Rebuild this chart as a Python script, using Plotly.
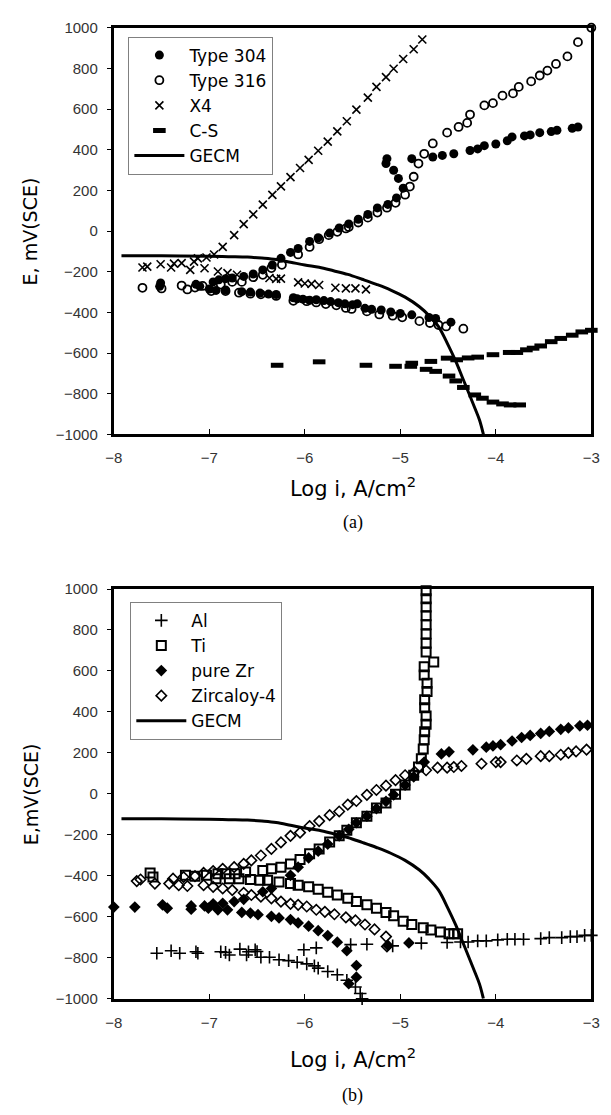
import plotly.graph_objects as go

# ---------------- Panel (a) data ----------------
t304_x = [-7.51, -7.52, -7.14, -7.10, -6.96, -6.90, -6.83, -6.76, -6.64, -6.54, -6.44, -6.34, -6.25, -6.15,
          -6.07, -5.95, -5.86, -5.74, -5.64, -5.54, -5.44, -5.34, -5.24, -5.13, -5.04, -4.97, -5.02, -5.07,
          -5.15, -5.14, -4.88, -4.66, -4.56, -4.44, -4.27, -4.19, -4.12, -4.00, -3.88, -3.83, -3.70, -3.64,
          -3.54, -3.42, -3.36, -3.20, -3.14,
          -7.00, -6.93, -6.83, -6.66, -6.57, -6.47, -6.38, -6.30, -6.12, -6.08, -6.02, -5.95, -5.88, -5.80,
          -5.73, -5.65, -5.58, -5.50, -5.45, -5.37, -5.30, -5.20, -5.10, -5.00, -4.88, -4.70, -4.63, -4.47]
t304_y = [-255, -272, -262, -272, -250, -240, -234, -231, -223, -211, -191, -167, -134, -105,
          -86, -51, -33, -10, 15, 35, 58, 82, 114, 131, 163, 211, 259, 299,
          332, 356, 356, 364, 372, 380, 396, 404, 420, 428, 444, 463, 468, 473,
          484, 489, 496, 505, 512,
          -285, -292, -290, -298, -300, -305, -310, -312, -328, -333, -335, -340, -338, -342,
          -347, -352, -358, -362, -358, -380, -385, -388, -398, -405, -412, -425, -430, -448]

t316_x = [-7.70, -7.50, -7.29, -7.23, -7.15, -7.07, -6.98, -6.83, -6.69, -6.57, -6.46, -6.30, -6.12, -5.98,
          -5.88, -5.78, -5.67, -5.57, -5.51, -5.35, -5.22, -5.08, -4.98, -4.80, -4.69, -4.60, -4.52, -4.34,
          -6.88, -6.76, -6.66, -6.54, -6.44, -6.35, -6.24, -6.07, -5.95, -5.85, -5.75, -5.66, -5.57, -5.54,
          -5.44, -5.34, -5.24, -5.14, -5.05, -4.95, -4.90, -4.86, -4.81, -4.75, -4.66, -4.51, -4.39, -4.30,
          -4.27, -4.12, -4.03, -3.93, -3.82, -3.76, -3.63, -3.54, -3.46, -3.37, -3.25, -3.14, -3.00]
t316_y = [-279, -282, -268, -287, -278, -270, -295, -295, -303, -308, -311, -319, -343, -345,
          -351, -359, -365, -378, -383, -395, -410, -416, -424, -443, -452, -462, -469, -480,
          -263, -250, -250, -227, -215, -182, -166, -115, -78, -40, -20, -4, 13, 20,
          42, 66, 91, 115, 139, 179, 219, 267, 332, 380, 431, 484, 512, 532,
          573, 618, 629, 666, 677, 709, 736, 765, 789, 822, 859, 929, 1000]

x4_x = [-7.70, -7.65, -7.51, -7.40, -7.37, -7.29, -7.20, -7.16, -7.12, -7.05, -7.03, -6.95, -6.86, -6.74,
        -6.64, -6.54, -6.44, -6.34, -6.25, -6.15, -6.05, -5.96, -5.86, -5.76, -5.66, -5.56, -5.46, -5.34,
        -5.25, -5.15, -5.07, -4.97, -4.86, -4.77,
        -6.91, -6.81, -6.71, -6.37, -6.30, -6.25, -6.07, -6.00, -5.93, -5.85, -5.68, -5.57, -5.47, -5.36]
x4_y = [-179, -175, -163, -179, -160, -158, -191, -150, -134, -183, -130, -115, -78, -20,
        34, 82, 130, 178, 220, 265, 310, 350, 395, 440, 490, 540, 597, 656,
        709, 757, 798, 846, 894, 942,
        -199, -207, -215, -231, -235, -234, -252, -258, -260, -265, -279, -282, -282, -287]

cs_x = [-6.29, -5.85, -5.36, -5.05, -4.89, -4.88, -4.68, -4.73, -4.63, -4.51, -4.49, -4.41, -4.42, -4.29,
        -4.19, -4.34, -4.22, -4.03, -4.14, -4.03, -3.93, -3.85, -3.75, -3.86, -3.78, -3.68, -3.61, -3.53,
        -3.42, -3.32, -3.20, -3.10, -3.00]
cs_y = [-660, -643, -660, -665, -665, -650, -641, -680, -690, -625, -713, -633, -737, -624,
        -620, -769, -806, -608, -822, -841, -850, -855, -855, -597, -597, -584, -576, -565,
        -544, -528, -512, -496, -488]

# ---------------- GECM (both panels) ----------------
gecm_x = [-7.92, -7.50, -7.00, -6.80, -6.60, -6.45, -6.30, -6.15, -6.00, -5.85, -5.70, -5.55, -5.40,
          -5.25, -5.10, -4.95, -4.80, -4.70, -4.60, -4.50, -4.42, -4.35, -4.28, -4.22, -4.17, -4.13]
gecm_y = [-122, -122, -124, -126, -128, -133, -140, -153, -167, -178, -195, -213, -237,
          -262, -290, -325, -372, -415, -470, -560, -640, -720, -800, -870, -930, -1000]

# ---------------- Panel (b) data ----------------
al_x = [-7.55, -7.40, -7.31, -7.14, -7.12, -6.88, -6.83, -6.79, -6.68, -6.61, -6.59, -6.52, -6.50, -6.46,
        -6.37, -6.27, -6.17, -6.08, -5.98, -5.90, -5.86, -5.76, -5.66, -5.56, -5.47, -5.42, -5.40,
        -6.01, -5.88, -5.52, -5.35, -5.08, -4.78, -4.51, -4.37, -4.29, -4.19, -4.10, -3.98, -3.88, -3.80,
        -3.71, -3.53, -3.44, -3.31, -3.22, -3.15, -3.07, -3.00]
al_y = [-778, -766, -778, -771, -778, -771, -774, -787, -758, -787, -771, -761, -770, -798,
        -798, -810, -814, -822, -830, -840, -851, -867, -883, -910, -943, -975, -1000,
        -761, -752, -736, -734, -742, -729, -726, -723, -723, -718, -718, -713, -710, -710,
        -710, -707, -702, -702, -697, -697, -691, -691]

ti_x = [-4.73, -4.73, -4.73, -4.73, -4.73, -4.73, -4.73, -4.73, -4.65, -4.75, -4.75, -4.72, -4.72, -4.745,
        -4.745, -4.73, -4.73, -4.745, -4.75, -4.76, -4.78, -4.81, -4.86, -4.95, -5.05, -5.15, -5.25, -5.35,
        -5.46, -5.56, -5.64, -5.74, -5.85, -5.95, -6.05, -6.15, -6.25, -6.35, -6.44, -6.62, -6.73, -6.83,
        -6.91, -7.03, -7.15, -7.25, -7.59, -7.62,
        -6.93, -6.79, -6.69, -6.57, -6.47, -6.39, -6.27, -6.15, -6.07, -5.96, -5.86, -5.76, -5.66, -5.55,
        -5.46, -5.35, -5.25, -5.15, -5.07, -4.97, -4.88, -4.76, -4.68, -4.58, -4.49, -4.44, -4.40]
ti_y = [992, 953, 912, 869, 825, 780, 735, 692, 644, 620, 580, 540, 500, 460,
        420, 380, 340, 303, 264, 219, 171, 131, 91, 43, -2, -45, -69, -109,
        -141, -178, -205, -235, -269, -293, -320, -342, -358, -366, -374, -381, -390, -390,
        -390, -398, -402, -398, -406, -386,
        -414, -414, -414, -418, -422, -422, -430, -438, -446, -454, -466, -480, -494, -510,
        -526, -542, -558, -579, -595, -622, -638, -654, -665, -675, -683, -683, -683]

zr_x = [-8.00, -7.78, -7.49, -7.44, -7.19, -7.19, -7.05, -7.01, -6.96, -6.91, -6.86, -6.81, -6.74, -6.64,
        -6.66, -6.57, -6.49, -6.44, -6.35, -6.35, -6.27, -6.15, -6.07, -6.15, -6.07, -5.96, -5.96, -5.86,
        -5.86, -5.76, -5.76, -5.66, -5.56, -5.46, -5.46, -5.54, -5.64, -5.54, -5.46, -5.35, -5.25, -5.15,
        -5.07, -4.95, -4.86, -4.75, -4.57, -4.49, -4.24, -4.10, -4.03, -3.95, -3.83, -3.73, -3.64, -3.53,
        -3.44, -3.32, -3.24, -3.12, -3.04, -5.13, -4.91]
zr_y = [-553, -553, -542, -558, -547, -563, -547, -558, -537, -566, -534, -566, -526, -515,
        -579, -582, -590, -478, -462, -598, -606, -398, -358, -614, -630, -313, -646, -280,
        -668, -245, -692, -724, -766, -838, -895, -927, -205, -173, -141, -109, -72, -37,
        -5, 43, 83, 155, 195, 205, 215, 228, 234, 240, 258, 275, 285, 295,
        305, 315, 322, 332, 335, -740, -728]

zy4_x = [-7.76, -7.72, -7.57, -7.42, -7.38, -7.32, -7.27, -7.23, -7.15, -7.06, -6.96, -6.86, -6.76, -6.64,
         -6.56, -6.46, -6.35, -6.25, -6.15, -6.07, -5.98, -5.88, -5.79, -5.69, -5.57, -5.47, -5.37, -5.27,
         -5.15, -5.14,
         -7.06, -6.96, -6.86, -6.74, -6.64, -6.56, -6.46, -6.35, -6.25, -6.15, -6.05, -5.95, -5.85, -5.74,
         -5.64, -5.55, -5.46, -5.35, -5.25, -5.15, -5.05, -4.95, -4.85, -4.73, -4.61, -4.51, -4.44, -4.36,
         -4.15, -4.00, -3.95, -3.78, -3.68, -3.53, -3.44, -3.32, -3.24, -3.16, -3.05]
zy4_y = [-426, -418, -438, -438, -414, -446, -406, -450, -402, -446, -454, -462, -470, -483,
         -494, -502, -510, -526, -537, -542, -550, -566, -576, -588, -603, -618, -638, -662,
         -697, -745,
         -386, -377, -366, -358, -342, -325, -301, -269, -237, -205, -189, -157, -133, -104,
         -86, -53, -35, -5, 19, 40, 67, 91, 107, 115, 128, 128, 131, 136,
         147, 155, 155, 163, 171, 184, 184, 191, 200, 207, 216]

x_ticks = [-8, -7, -6, -5, -4, -3]
y_ticks = [-1000, -800, -600, -400, -200, 0, 200, 400, 600, 800, 1000]

W, H = 611, 1115
XL, XR = 108, 600
A_TOP, A_BOT = 19, 432
B_TOP, B_BOT = 589, 1005

def py(p):
    return 1 - p / H

fig = go.Figure()

def mk(x, y, name, xa, ya, leg, **m):
    fig.add_trace(go.Scatter(x=x, y=y, mode="markers", name=name, xaxis=xa, yaxis=ya,
                             legend=leg, marker=m, cliponaxis=False))

mk(t304_x, t304_y, "Type 304", "x", "y", "legend", symbol="circle", size=9, color="black",
   line=dict(width=0))
mk(t316_x, t316_y, "Type 316", "x", "y", "legend", symbol="circle-open", size=8, color="black",
   line=dict(width=1.8, color="black"))
mk(x4_x, x4_y, "X4", "x", "y", "legend", symbol="x-thin", size=8, color="black",
   line=dict(width=1.6, color="black"))
mk(cs_x, cs_y, "C-S", "x", "y", "legend", symbol="line-ew", size=9, color="black",
   line=dict(width=5, color="black"))
fig.add_trace(go.Scatter(x=gecm_x, y=gecm_y, mode="lines", name="GECM", xaxis="x", yaxis="y",
                         legend="legend", line=dict(color="black", width=3, shape="spline")))

mk(al_x, al_y, "Al", "x2", "y2", "legend2", symbol="cross-thin", size=9, color="black",
   line=dict(width=1.6, color="black"))
mk(ti_x, ti_y, "Ti", "x2", "y2", "legend2", symbol="square-open", size=9, color="black",
   line=dict(width=2, color="black"))
mk(zr_x, zr_y, "pure Zr", "x2", "y2", "legend2", symbol="diamond", size=9, color="black",
   line=dict(width=0))
mk(zy4_x, zy4_y, "Zircaloy-4", "x2", "y2", "legend2", symbol="diamond-open", size=8, color="black",
   line=dict(width=1.6, color="black"))
fig.add_trace(go.Scatter(x=gecm_x, y=gecm_y, mode="lines", name="GECM", xaxis="x2", yaxis="y2",
                         legend="legend2", line=dict(color="black", width=3, shape="spline")))

tickfont = dict(family="Liberation Sans, Arial, sans-serif", size=15, color="#333333")
xcommon = dict(range=[-8, -3], tickvals=x_ticks, ticktext=[f"\u2212{abs(v)}" for v in x_ticks],
               showline=True, linewidth=3, linecolor="black", mirror=True, ticks="inside",
               ticklen=5, tickwidth=1, tickcolor="black", showgrid=False, zeroline=False,
               tickfont=tickfont, domain=[XL / W, XR / W], ticklabelstandoff=8)
ycommon = dict(range=[-1000, 1000], tickvals=y_ticks,
               ticktext=[(f"\u2212{abs(v)}" if v < 0 else str(v)) for v in y_ticks],
               showline=True, linewidth=3, linecolor="black", mirror=True, ticks="outside",
               ticklen=4, tickwidth=1, tickcolor="black", showgrid=False, zeroline=False,
               tickfont=tickfont, ticklabelstandoff=6)

legfont = dict(family="DejaVu Sans, sans-serif", size=17, color="black")
legcommon = dict(font=legfont, bordercolor="#808080", borderwidth=1, bgcolor="white",
                 xanchor="left", yanchor="top", itemwidth=50, traceorder="normal",
                 itemsizing="trace")

fig.update_layout(
    width=W, height=H, margin=dict(l=0, r=0, t=0, b=0),
    paper_bgcolor="white", plot_bgcolor="white",
    xaxis=dict(**xcommon, anchor="y"),
    yaxis=dict(**ycommon, anchor="x", domain=[py(A_BOT), py(A_TOP)]),
    xaxis2=dict(**xcommon, anchor="y2"),
    yaxis2=dict(**ycommon, anchor="x2", domain=[py(B_BOT), py(B_TOP)]),
    legend=dict(**legcommon, x=123 / W, y=py(28)),
    legend2=dict(**legcommon, x=125 / W, y=py(602)),
    showlegend=True,
)

titlefont = dict(family="DejaVu Sans, sans-serif", size=21, color="black")
ytitlefont = dict(family="DejaVu Sans, sans-serif", size=19, color="black")
capfont = dict(family="Liberation Serif, Times New Roman, serif", size=18, color="black")
cx = (XL + XR) / 2 / W
ann = [
    dict(text="Log i, A/cm<sup>2</sup>", x=cx, y=py(485), font=titlefont),
    dict(text="(a)", x=cx, y=py(521), font=capfont),
    dict(text="E, mV(SCE)", x=22 / W, y=py((A_TOP + A_BOT) / 2), font=ytitlefont, textangle=-90),
    dict(text="Log i, A/cm<sup>2</sup>", x=cx, y=py(1065), font=titlefont),
    dict(text="(b)", x=cx, y=py(1103), font=capfont),
    dict(text="E,mV(SCE)", x=22 / W, y=py((B_TOP + B_BOT) / 2), font=ytitlefont, textangle=-90),
]
for a in ann:
    fig.add_annotation(xref="paper", yref="paper", showarrow=False, xanchor="center", yanchor="middle", **a)

fig.write_html("out.html")
